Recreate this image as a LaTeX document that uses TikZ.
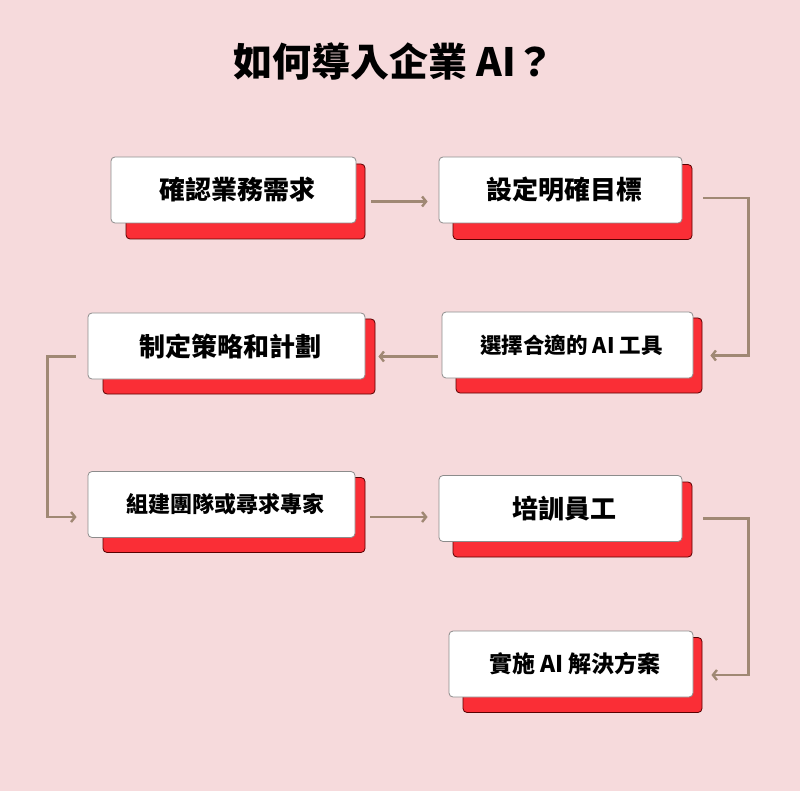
\documentclass[tikz,border=0pt]{standalone}
\usepackage{fontspec}
\setmainfont{Noto Sans CJK TC}
\usepackage{xcolor}
\usetikzlibrary{positioning,arrows.meta}

\definecolor{bgpink}{RGB}{246,218,220}
\definecolor{shadered}{RGB}{250,46,54}
\definecolor{linkbrown}{RGB}{160,136,116}

\begin{document}
\begin{tikzpicture}[x=1pt, y=-1pt, every node/.style={font=\bfseries},
  mbox/.style={draw=black!45, fill=white, rounded corners=4pt, line width=0.8pt,
               inner sep=0pt, minimum height=66pt,
               execute at begin node={\hspace*{8pt}}},
  rbox/.style={draw=red!35!black, fill=shadered, rounded corners=4pt, line width=0.8pt,
               inner sep=0pt, minimum height=75pt},
  bigtxt/.style={font=\bfseries\fontsize{26pt}{31pt}\selectfont},
  smalltxt/.style={font=\bfseries\fontsize{22pt}{27pt}\selectfont},
  link/.style={-{Straight Barb[length=4pt,width=10pt]}, linkbrown, line width=2.4pt}]

  \fill[bgpink] (0,0) rectangle (800,791);

  \node[font=\bfseries\fontsize{39pt}{47pt}\selectfont] (title) at (394,62)
    {如何導入企業 AI？};

  % left column
  \node[rbox, minimum width=239pt] (r1) at (245.5,201.5) {};
  \node[mbox, minimum width=245pt, bigtxt] (b1) at (233.5,190) {確認業務需求};
  \node[rbox, minimum width=272pt] (r4) at (239,356.5) {};
  \node[mbox, minimum width=277pt, bigtxt] (b4) at (226.5,346) {制定策略和計劃};
  \node[rbox, minimum width=262pt] (r5) at (234,515) {};
  \node[mbox, minimum width=267pt, smalltxt] (b5) at (221.5,504.5) {組建團隊或尋求專家};

  % right column
  \node[rbox, minimum width=239pt] (r2) at (572.5,202) {};
  \node[mbox, minimum width=243pt, bigtxt] (b2) at (560.5,190) {設定明確目標};
  \node[rbox, minimum width=246pt] (r3) at (579,355.5) {};
  \node[mbox, minimum width=251pt, font=\bfseries\fontsize{21.5pt}{26pt}\selectfont] (b3)
    at (567.5,345) {選擇合適的 AI 工具};
  \node[rbox, minimum width=239pt] (r6) at (572.5,519.5) {};
  \node[mbox, minimum width=243pt, bigtxt] (b6) at (560.5,508.5) {培訓員工};
  \node[rbox, minimum width=239pt] (r7) at (582.5,675) {};
  \node[mbox, minimum width=244pt, font=\bfseries\fontsize{23pt}{28pt}\selectfont] (b7)
    at (571,664) {實施 AI 解決方案};

  % links
  \draw[link, shorten <=6pt, shorten >=11pt] (r1.east) -- (b2.west |- r1.east);
  \draw[link, shorten <=11pt, shorten >=8pt] ([yshift=4pt]r2.east) -- ++(56,0) |- (r3.east);
  \draw[link, shorten <=4pt, shorten >=3pt] (b3.west |- r4.east) -- (r4.east);
  \draw[link, shorten <=12pt, shorten >=11pt] (b4.west |- r4.east) -- ++(-40,0)
    |- ([yshift=-2pt]b5.west |- r5.east);
  \draw[link, shorten <=5pt, shorten >=11pt] ([yshift=-2pt]r5.east) -- ([yshift=-2pt]b6.west |- r5.east);
  \draw[link, shorten <=11pt, shorten >=9pt] ([yshift=1pt]r6.east) -- ++(56,0) |- (r7.east);
\end{tikzpicture}
\end{document}
